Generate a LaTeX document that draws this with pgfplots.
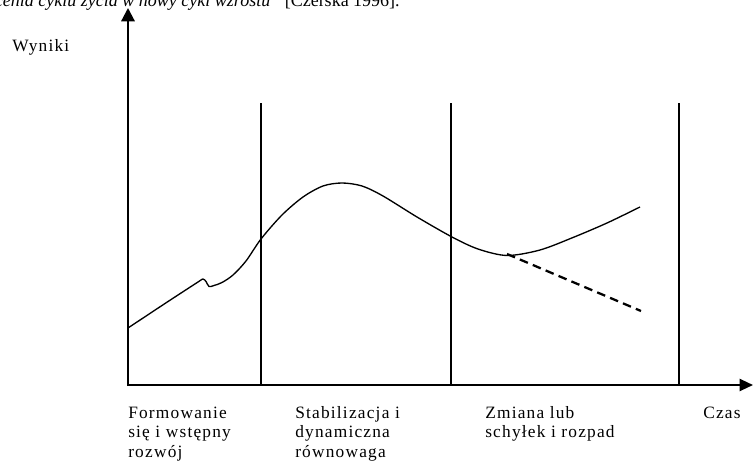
\documentclass[border=0pt]{standalone}
\usepackage{fontspec}
\setmainfont{Liberation Serif}
\newfontfamily\lab[LetterSpace=7]{Liberation Serif}
\usepackage{pgfplots}
\pgfplotsset{compat=1.18}
\usetikzlibrary{arrows.meta}
\tikzset{lbl/.style={font=\lab\fontsize{13}{15}\selectfont, inner sep=0pt, anchor=base west}}
\begin{document}
\begin{tikzpicture}
\begin{axis}[
  x=0.75pt, y=0.75pt,
  xmin=0, xmax=755, ymin=0, ymax=475,
  axis lines=none, clip=false, scale only axis,
  every axis plot/.append style={mark=none},
]
\coordinate (bl) at (axis cs:0,0);
\coordinate (tr) at (axis cs:755,475);
% axes
\addplot[line width=1.6pt, -{Triangle[length=10pt,width=10pt]}] coordinates {(128,89) (128,467)};
\addplot[line width=1.6pt, -{Triangle[length=10pt,width=9pt]}] coordinates {(127,90) (753,90)};
% phase boundaries
\addplot[line width=0.8pt] coordinates {(261,90) (261,372)};
\addplot[line width=0.8pt] coordinates {(451,90) (451,372)};
\addplot[line width=0.8pt] coordinates {(679,90) (679,372)};
% life-cycle curve
\addplot[line width=1pt, smooth, tension=0.5] coordinates {
 (128,147) (165,171.5) (198,193) (203,196) (206,193.5) (209,188.5) (214,189.5)
 (222,192.5) (233,200) (246,214) (261,236) (282,260) (303,278) (323,289)
 (342,292) (362,289) (383,279) (417,258) (452,238) (478,226) (507,219.5)
 (540,225) (573,237.5) (607,252) (640,268)};
% decline
\addplot[line width=1.7pt, dash pattern=on 6.5pt off 4pt] coordinates {(507,221) (641,164)};
% texts
\node[lbl] at (axis cs:12,423) {Wyniki};
\node[lbl] at (axis cs:128,57) {Formowanie};
\node[lbl] at (axis cs:128,38) {się i wstępny};
\node[lbl] at (axis cs:128,18) {rozwój};
\node[lbl] at (axis cs:295,57) {Stabilizacja i};
\node[lbl] at (axis cs:295,38) {dynamiczna};
\node[lbl] at (axis cs:295,18) {równowaga};
\node[lbl] at (axis cs:485,57) {Zmiana lub};
\node[lbl] at (axis cs:485,38) {schyłek i rozpad};
\node[lbl] at (axis cs:703,57) {Czas};
\node[font=\fontsize{13.5}{15}\selectfont, inner sep=0pt, anchor=base east] at (axis cs:400,468)
  {\textit{przekształcenia cyklu życia w nowy cykl wzrostu”} [Czerska 1996].};
\end{axis}
\pgfresetboundingbox
\useasboundingbox (bl) rectangle (tr);
\end{tikzpicture}
\end{document}
